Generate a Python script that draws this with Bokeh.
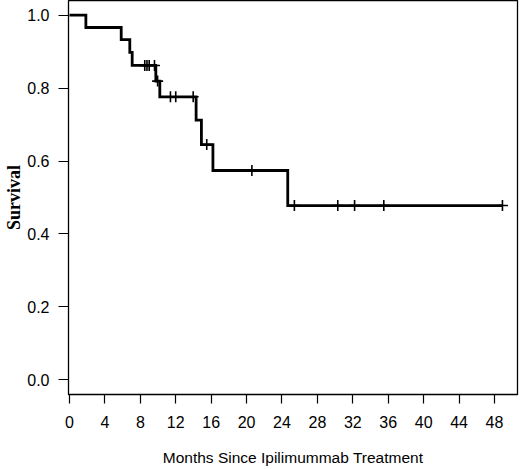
from bokeh.plotting import figure
from bokeh.models import Range1d, FixedTicker
from bokeh.embed import file_html
from bokeh.resources import INLINE

# Kaplan-Meier step curve
step_times = [0, 1.85, 5.84, 6.81, 7.08, 9.75, 10.2, 14.3, 14.9, 16.2, 24.65, 48.9]
step_surv = [1.0, 0.966, 0.933, 0.898, 0.862, 0.819, 0.776, 0.712, 0.645, 0.574, 0.478, 0.478]

# censored observations
censor_times = [8.5, 8.75, 9.0, 9.6, 9.95, 11.4, 12.0, 13.97, 15.5, 20.6, 25.4, 30.3, 32.2, 35.5, 48.9]
censor_surv = [0.862, 0.862, 0.862, 0.862, 0.819, 0.776, 0.776, 0.776, 0.645, 0.574,
               0.478, 0.478, 0.478, 0.478, 0.478]

x_ticks = [0, 4, 8, 12, 16, 20, 24, 28, 32, 36, 40, 44, 48]
x_tick_labels = ["0", "4", "8", "12", "16", "20", "24", "28", "32", "36", "40", "44", "48"]
y_ticks = [0.0, 0.2, 0.4, 0.6, 0.8, 1.0]
y_tick_labels = ["0.0", "0.2", "0.4", "0.6", "0.8", "1.0"]

x_title = "Months Since Ipilimummab Treatment"
y_title = "Survival"

p = figure(width=520, height=469, output_backend="svg", toolbar_location=None,
           x_range=Range1d(-0.113, 50.6), y_range=Range1d(-0.04, 1.04),
           min_border_left=68, min_border_right=3, min_border_top=0, min_border_bottom=75)

p.xgrid.visible = False
p.ygrid.visible = False
p.outline_line_color = "black"
p.outline_line_width = 1.3
p.background_fill_color = "white"
p.border_fill_color = "white"

p.step(step_times, step_surv, mode="after", line_width=2.8, line_color="black",
       line_join="miter")
p.scatter(censor_times, censor_surv, marker="cross", size=11, line_width=1.6,
          line_color="black")

xa = p.xaxis[0]
xa.ticker = FixedTicker(ticks=x_ticks)
xa.major_label_overrides = {t: l for t, l in zip(x_ticks, x_tick_labels)}
xa.axis_line_color = None
xa.major_tick_in = 0
xa.major_tick_out = 9
xa.major_tick_line_width = 1.2
xa.minor_tick_line_color = None
xa.major_label_standoff = 12
xa.major_label_text_font = "Liberation Sans"
xa.major_label_text_font_size = "16px"
xa.major_label_text_color = "black"
xa.axis_label = x_title
xa.axis_label_text_font = "Liberation Sans"
xa.axis_label_text_font_style = "normal"
xa.axis_label_text_font_size = "15.5px"
xa.axis_label_text_color = "black"
xa.axis_label_standoff = 18

ya = p.yaxis[0]
ya.ticker = FixedTicker(ticks=y_ticks)
ya.major_label_overrides = {t: l for t, l in zip(y_ticks, y_tick_labels)}
ya.axis_line_color = None
ya.major_tick_in = 0
ya.major_tick_out = 10
ya.major_tick_line_width = 1.2
ya.minor_tick_line_color = None
ya.major_label_standoff = 9
ya.major_label_text_font = "Liberation Sans"
ya.major_label_text_font_size = "16px"
ya.major_label_text_color = "black"
ya.axis_label = y_title
ya.axis_label_text_font = "Liberation Serif"
ya.axis_label_text_font_style = "bold"
ya.axis_label_text_font_size = "18px"
ya.axis_label_text_color = "black"
ya.axis_label_standoff = 0

open("out.html", "w").write(file_html(p, INLINE))
